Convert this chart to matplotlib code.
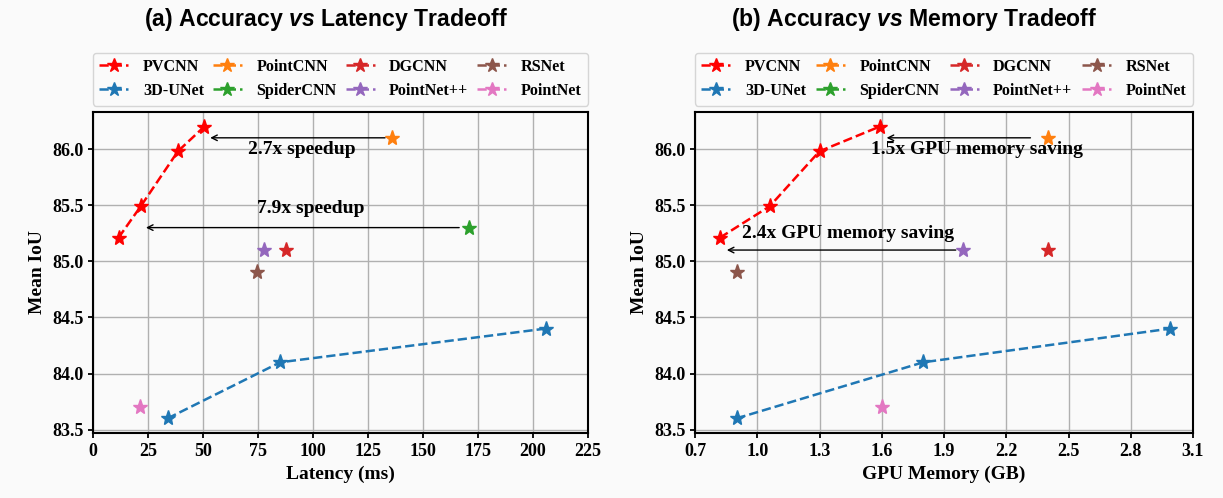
import matplotlib.pyplot as plt

plt.rcParams['font.family'] = 'Liberation Serif'
plt.rcParams['font.weight'] = 'bold'
plt.rcParams['mathtext.fontset'] = 'custom'
plt.rcParams['mathtext.it'] = 'Liberation Sans:italic:bold'
plt.rcParams['mathtext.rm'] = 'Liberation Sans:bold'

# models (legend fills column by column) and their mIoU
models = ['PVCNN', '3D-UNet', 'PointCNN', 'SpiderCNN', 'DGCNN', 'PointNet++', 'RSNet', 'PointNet']
colors = ['red', 'tab:blue', 'tab:orange', 'tab:green', 'tab:red', 'tab:purple', 'tab:brown', 'tab:pink']

miou = {
    'PVCNN': [85.21, 85.49, 85.98, 86.2],
    'PointCNN': [86.1],
    'DGCNN': [85.1],
    'RSNet': [84.9],
    '3D-UNet': [83.6, 84.1, 84.4],
    'SpiderCNN': [85.3],
    'PointNet++': [85.1],
    'PointNet': [83.7],
}

# latency (ms)
latency = {
    'PVCNN': [11.6, 21.7, 38.6, 50.6],
    'PointCNN': [135.8],
    'DGCNN': [87.8],
    'RSNet': [74.6],
    '3D-UNet': [33.9, 85.1, 205.7],
    'SpiderCNN': [170.7],
    'PointNet++': [77.8],
    'PointNet': [21.4],
}

# GPU memory (GB); SpiderCNN is not shown in the memory plot
memory = {
    'PVCNN': [0.82, 1.06, 1.30, 1.59],
    'PointCNN': [2.40],
    'DGCNN': [2.40],
    'RSNet': [0.90],
    '3D-UNet': [0.90, 1.80, 2.99],
    'SpiderCNN': [],
    'PointNet++': [1.99],
    'PointNet': [1.60],
}

fig = plt.figure(figsize=(12.23, 4.98), dpi=100, facecolor='#fafafa')
ax1 = fig.add_axes([93/1223, 1 - 433/498, 495/1223, 321/498])
ax2 = fig.add_axes([695/1223, 1 - 433/498, 498/1223, 321/498])


def draw(ax, xdata, title, xlabel, title_x):
    ax.set_facecolor('#fafafa')
    for m, c in zip(models, colors):
        ys = miou[m][:len(xdata[m])]
        ax.plot(xdata[m], ys, '--', marker='*', color=c, markersize=11, linewidth=1.8, label=m)
    ax.grid(True, color='#b0b0b0', linewidth=1)
    ax.set_axisbelow(True)
    ax.set_ylim(83.47, 86.33)
    ax.set_yticks([83.5, 84.0, 84.5, 85.0, 85.5, 86.0])
    for s in ax.spines.values():
        s.set_linewidth(1.5)
    ax.tick_params(labelsize=13, width=1.3)
    ax.set_xlabel(xlabel, fontsize=14, fontweight='bold')
    ax.set_ylabel('Mean IoU', fontsize=14, fontweight='bold')
    ax.legend(ncol=4, loc='lower left', bbox_to_anchor=(0, 1.02, 1, 0.2), mode='expand',
              prop={'size': 11.6, 'weight': 'bold'}, handlelength=1.8, columnspacing=0.3,
              handletextpad=0.9, borderaxespad=0, facecolor='#fafafa', markerscale=0.9)
    ax.set_title(title, fontsize=16.6, fontfamily='Liberation Sans', fontweight='bold',
                 pad=62, x=title_x)


draw(ax1, latency, r'(a) Accuracy $\mathit{vs}$ Latency Tradeoff', 'Latency (ms)', 0.47)
ax1.set_xlim(0, 225)
ax1.set_xticks(range(0, 226, 25))
ax1.annotate('', xy=(52, 86.1), xytext=(134, 86.1), arrowprops=dict(arrowstyle='->', color='black', lw=1))
ax1.text(95, 86.0, '2.7x speedup', ha='center', va='center', fontsize=14, fontweight='bold')
ax1.annotate('', xy=(22.8, 85.3), xytext=(167.7, 85.3), arrowprops=dict(arrowstyle='->', color='black', lw=1))
ax1.text(99, 85.47, '7.9x speedup', ha='center', va='center', fontsize=14, fontweight='bold')

draw(ax2, memory, r'(b) Accuracy $\mathit{vs}$ Memory Tradeoff', 'GPU Memory (GB)', 0.44)
ax2.set_xlim(0.7, 3.1)
ax2.set_xticks([0.7, 1.0, 1.3, 1.6, 1.9, 2.2, 2.5, 2.8, 3.1])
ax2.annotate('', xy=(1.61, 86.1), xytext=(2.33, 86.1), arrowprops=dict(arrowstyle='->', color='black', lw=1))
ax2.text(2.06, 86.0, '1.5x GPU memory saving', ha='center', va='center', fontsize=14, fontweight='bold')
ax2.annotate('', xy=(0.84, 85.1), xytext=(1.97, 85.1), arrowprops=dict(arrowstyle='->', color='black', lw=1))
ax2.text(1.436, 85.245, '2.4x GPU memory saving', ha='center', va='center', fontsize=14, fontweight='bold')

fig.savefig('out.png', dpi=100, facecolor=fig.get_facecolor())
